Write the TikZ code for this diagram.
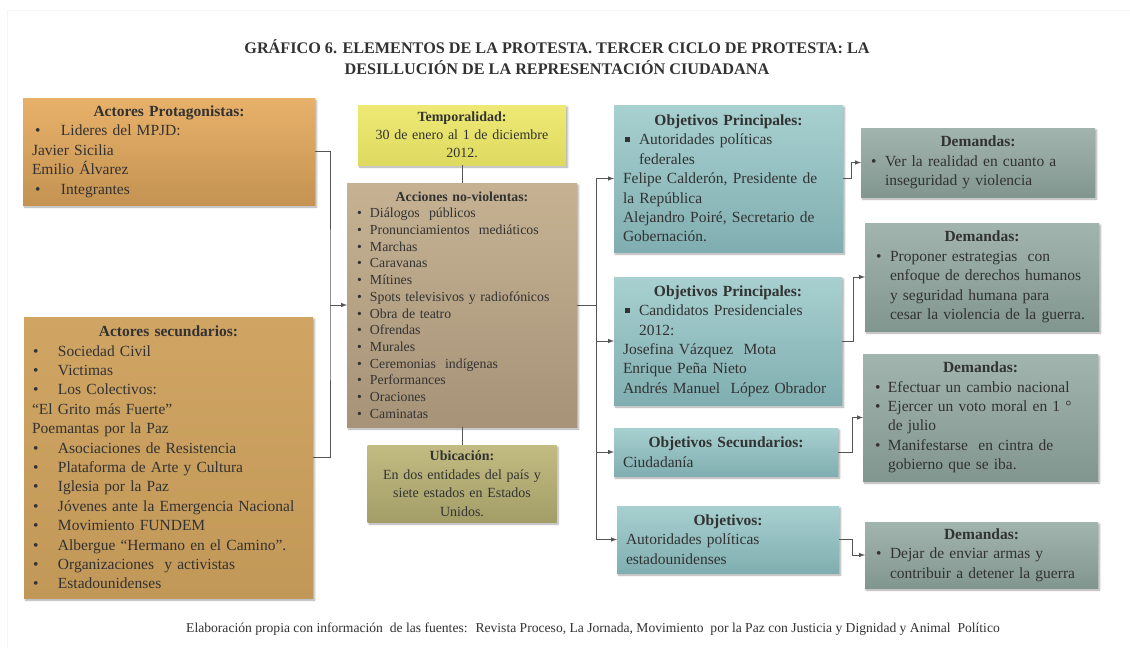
\documentclass[tikz,border=0pt]{standalone}
\usepackage{fontspec}
\setmainfont{Liberation Serif}
\usepackage{tikz}
\usetikzlibrary{shadows.blur,positioning}

\definecolor{txt}{RGB}{50,50,50}
\definecolor{lnk}{RGB}{85,85,85}
\definecolor{protA}{RGB}{232,177,106}
\definecolor{protB}{RGB}{196,147,82}
\definecolor{secA}{RGB}{208,165,100}
\definecolor{secB}{RGB}{194,152,88}
\definecolor{tempA}{RGB}{238,233,116}
\definecolor{tempB}{RGB}{222,218,96}
\definecolor{accA}{RGB}{198,178,147}
\definecolor{accB}{RGB}{166,147,120}
\definecolor{ubiA}{RGB}{194,188,130}
\definecolor{ubiB}{RGB}{163,158,104}
\definecolor{objA}{RGB}{168,208,208}
\definecolor{objB}{RGB}{128,174,176}
\definecolor{demA}{RGB}{162,180,174}
\definecolor{demB}{RGB}{130,150,144}

% heading line and bullet lines
\newcommand{\hd}[1]{\makebox[\linewidth]{\bfseries #1}}
\newcommand{\itm}[3]{\hspace*{#1}\makebox[\dimexpr#2-#1\relax][l]{\textbullet}#3}
\newcommand{\itq}[3]{\hspace*{#1}\makebox[\dimexpr#2-#1\relax][l]{\raisebox{3pt}{\rule{4.5pt}{4.5pt}}}#3}

\begin{document}
\begin{tikzpicture}[x=1pt,y=-1pt,>=latex,
    box/.style={anchor=north west, inner xsep=9pt, inner ysep=2pt, outer sep=0pt,
      align=left, text=txt, shading angle=45,
      blur shadow={shadow xshift=1.5pt, shadow yshift=-2pt, shadow opacity=35, shadow blur steps=4}},
    bigtext/.style={font=\fontsize{15.5}{19.4}\selectfont},
    smalltext/.style={font=\fontsize{13.8}{16.7}\selectfont},
    link/.style={draw=lnk, line width=1pt}]
   \useasboundingbox (0,0) rectangle (1130,648);
   \draw[black!4] (7,648) -- (7,10) -- (1130,10);

   \node[text=txt, align=center, font=\fontsize{16.2}{21}\selectfont\bfseries] (title) at (557,57)
      {GRÁFICO 6. ELEMENTOS DE LA PROTESTA. TERCER CICLO DE PROTESTA: LA\\
       DESILLUCIÓN DE LA REPRESENTACIÓN CIUDADANA};

   % actores
   \node[box, bigtext, top color=protA, bottom color=protB, text width=274pt, minimum height=107]
      (prot) at (23,98) {\hd{Actores Protagonistas:}\\
       \itm{3pt}{29pt}{Lideres del MPJD:}\\
       Javier Sicilia\\
       Emilio Álvarez\\
       \itm{3pt}{29pt}{Integrantes}};
   \node[box, bigtext, inner xsep=8pt, top color=secA, bottom color=secB, text width=273pt, minimum height=281]
      (sec) at (24,317) {\hd{Actores secundarios:}\\
       \itm{1pt}{26pt}{Sociedad Civil}\\
       \itm{1pt}{26pt}{Victimas}\\
       \itm{1pt}{26pt}{Los Colectivos:}\\
       “El Grito más Fuerte”\\
       Poemantas por la Paz\\
       \itm{1pt}{26pt}{Asociaciones de Resistencia}\\
       \itm{1pt}{26pt}{Plataforma de Arte y Cultura}\\
       \itm{1pt}{26pt}{Iglesia por la Paz}\\
       \itm{1pt}{26pt}{Jóvenes ante la Emergencia Nacional}\\
       \itm{1pt}{26pt}{Movimiento FUNDEM}\\
       \itm{1pt}{26pt}{Albergue “Hermano en el Camino”.}\\
       \itm{1pt}{26pt}{Organizaciones~ y activistas}\\
       \itm{1pt}{26pt}{Estadounidenses}};

   % acciones
   \node[box, smalltext, inner xsep=8pt, top color=accA, bottom color=accB, text width=214pt, minimum height=244]
      (acc) at (347,183) {\hd{Acciones no-violentas:}\\
       \itm{2pt}{15pt}{Diálogos~ públicos}\\
       \itm{2pt}{15pt}{Pronunciamientos~ mediáticos}\\
       \itm{2pt}{15pt}{Marchas}\\
       \itm{2pt}{15pt}{Caravanas}\\
       \itm{2pt}{15pt}{Mítines}\\
       \itm{2pt}{15pt}{Spots televisivos y radiofónicos}\\
       \itm{2pt}{15pt}{Obra de teatro}\\
       \itm{2pt}{15pt}{Ofrendas}\\
       \itm{2pt}{15pt}{Murales}\\
       \itm{2pt}{15pt}{Ceremonias~ indígenas}\\
       \itm{2pt}{15pt}{Performances}\\
       \itm{2pt}{15pt}{Oraciones}\\
       \itm{2pt}{15pt}{Caminatas}};
   \node[box, anchor=south, align=center, font=\fontsize{14}{18}\selectfont, top color=tempA, bottom color=tempB,
      text width=190pt, minimum height=60] (temp) [above=18pt of acc]
      {\textbf{Temporalidad:}\\30 de enero al 1 de diciembre\\2012.};
   \node[box, anchor=north, align=center, font=\fontsize{14}{18.5}\selectfont, top color=ubiA, bottom color=ubiB,
      text width=171pt, minimum height=77] (ubi) [below=18pt of acc]
      {\textbf{Ubicación:}\\En dos entidades del país y\\siete estados en Estados\\Unidos.};

   % objetivos
   \node[box, bigtext, top color=objA, bottom color=objB, text width=211pt, minimum height=147]
      (o1) at (614,105) {\hd{Objetivos Principales:}\\
       \itq{2pt}{16pt}{Autoridades políticas}\\
       \hspace*{16pt}federales\\
       Felipe Calderón, Presidente de\\
       la República\\
       Alejandro Poiré, Secretario de\\
       Gobernación.};
   \node[box, bigtext, top color=objA, bottom color=objB, text width=210pt, minimum height=128]
      (o2) at (614,277) {\hd{Objetivos Principales:}\\
       \itq{2pt}{16pt}{Candidatos Presidenciales}\\
       \hspace*{16pt}2012:\\
       Josefina Vázquez~ Mota\\
       Enrique Peña Nieto\\
       Andrés Manuel~ López Obrador};
   \node[box, bigtext, top color=objA, bottom color=objB, text width=206pt, minimum height=48]
      (os) at (614,428) {\hd{Objetivos Secundarios:}\\Ciudadanía};
   \node[box, bigtext, top color=objA, bottom color=objB, text width=204pt, minimum height=67]
      (ob) at (617,506) {\hd{Objetivos:}\\Autoridades políticas\\estadounidenses};

   % demandas
   \node[box, bigtext, top color=demA, bottom color=demB, text width=216pt, minimum height=69]
      (d1) at (861,128) {\hd{Demandas:}\\
       \itm{1pt}{15pt}{Ver la realidad en cuanto a}\\
       \hspace*{15pt}inseguridad y violencia};
   \node[box, bigtext, top color=demA, bottom color=demB, text width=216pt, minimum height=108]
      (d2) at (865,223) {\hd{Demandas:}\\
       \itm{2pt}{16pt}{Proponer estrategias~ con}\\
       \hspace*{16pt}enfoque de derechos humanos\\
       \hspace*{16pt}y seguridad humana para\\
       \hspace*{16pt}cesar la violencia de la guerra.};
   \node[box, bigtext, top color=demA, bottom color=demB, text width=217pt, minimum height=127]
      (d3) at (863,354) {\hd{Demandas:}\\
       \itm{3pt}{16pt}{Efectuar un cambio nacional}\\
       \itm{3pt}{16pt}{Ejercer un voto moral en 1 °}\\
       \hspace*{16pt}de julio\\
       \itm{3pt}{16pt}{Manifestarse~ en cintra de}\\
       \hspace*{16pt}gobierno que se iba.};
   \node[box, bigtext, top color=demA, bottom color=demB, text width=215pt, minimum height=66]
      (d4) at (865,522) {\hd{Demandas:}\\
       \itm{2pt}{16pt}{Dejar de enviar armas y}\\
       \hspace*{16pt}contribuir a detener la guerra};

   \node[text=txt, font=\fontsize{13.6}{16}\selectfont] (src) at (593,629)
      {Elaboración propia con información~ de las fuentes:~ Revista Proceso, La Jornada, Movimiento~ por la Paz con Justicia y Dignidad y Animal~ Político};

   % conectores
   \coordinate (jl) at (330,305);
   \coordinate (jr) at (596,305);
   \draw[link] (prot.east) -| (jl) |- (sec.east);
   \draw[link, ->] (jl) -- (acc.west);
   \draw[link] (temp.south) -- (acc.north);
   \draw[link] (acc.south) -- (ubi.north);
   \draw[link] (acc.east) -- (jr);
   \draw[link, ->] (jr) |- (o1.west);
   \draw[link, ->] (jr) |- (o2.west);
   \draw[link, ->] (jr) |- (os.west);
   \draw[link, ->] (jr) |- (ob.west);
   \draw[link, ->] (o1.east) -- ++(8,0) |- (d1.west);
   \draw[link, ->] (o2.east) -- ++(11,0) |- (d2.west);
   \draw[link, ->] (os.east) -- ++(14,0) |- (d3.west);
   \draw[link, ->] (ob.east) -- ++(13,0) |- (d4.west);
\end{tikzpicture}
\end{document}
